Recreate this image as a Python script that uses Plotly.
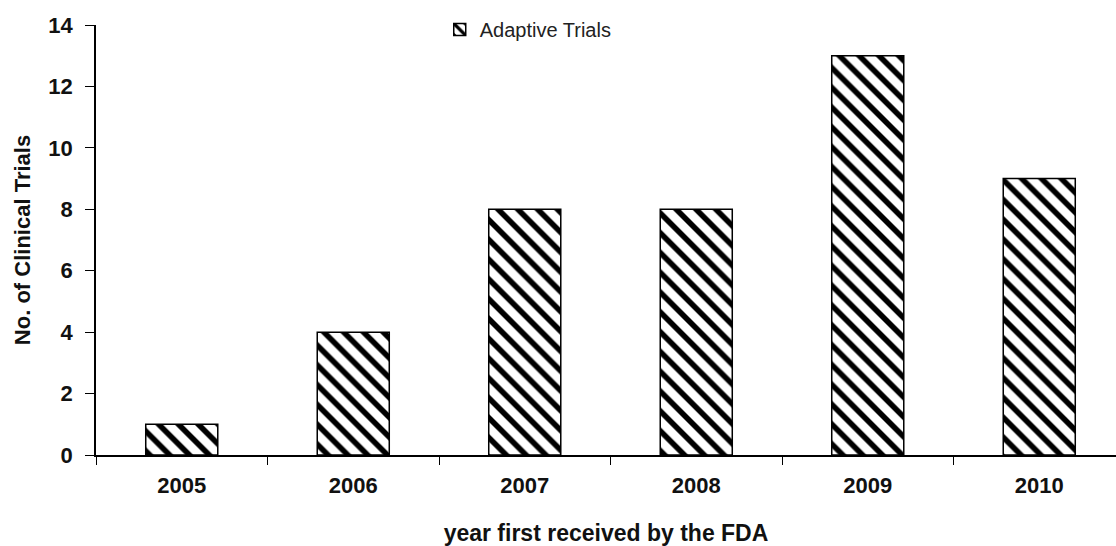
import plotly.graph_objects as go

years = ["2005", "2006", "2007", "2008", "2009", "2010"]
trials = [1, 4, 8, 8, 13, 9]
series_name = "Adaptive Trials"

fig = go.Figure()
fig.add_trace(go.Bar(
    x=years,
    y=trials,
    name=series_name,
    width=0.42,
    marker=dict(
        color="white",
        line=dict(color="black", width=1.5),
        pattern=dict(shape="\\", fgcolor="black", bgcolor="white",
                     fgopacity=1, size=14, solidity=0.4),
    ),
    showlegend=True,
))

font_family = "Liberation Sans, Arial, sans-serif"

fig.update_layout(
    width=1116,
    height=546,
    margin=dict(l=96, r=0, t=25, b=91),
    plot_bgcolor="white",
    paper_bgcolor="white",
    font=dict(family=font_family, color="#111111"),
    showlegend=True,
    legend=dict(
        x=0.337, y=1.035, xanchor="left", yanchor="top",
        orientation="h",
        font=dict(size=20, color="#222222"),
        bgcolor="rgba(0,0,0,0)",
        itemwidth=30,
    ),
    xaxis=dict(
        type="category",
        range=[-0.5, -0.5 + 1020 / 171.5],
        tickson="boundaries",
        ticks="outside",
        ticklen=8,
        tickwidth=1.2,
        tickcolor="black",
        showline=True,
        linecolor="black",
        linewidth=1.5,
        showgrid=False,
        tickfont=dict(size=22, family=font_family, weight="bold"),
        ticklabelstandoff=10,
        automargin=False,
        title=dict(
            text="<b>year first received by the FDA</b>",
            font=dict(size=23),
            standoff=37,
        ),
    ),
    yaxis=dict(
        range=[0, 14],
        dtick=2,
        ticks="outside",
        ticklen=9,
        tickwidth=1.2,
        tickcolor="black",
        showline=True,
        linecolor="black",
        linewidth=1.5,
        showgrid=False,
        zeroline=False,
        tickfont=dict(size=22, family=font_family, weight="bold"),
        ticklabelstandoff=8,
        automargin=False,
        title=dict(
            text="<b>No. of Clinical Trials</b>",
            font=dict(size=22),
            standoff=12,
        ),
    ),
)

fig.write_html("out.html")
